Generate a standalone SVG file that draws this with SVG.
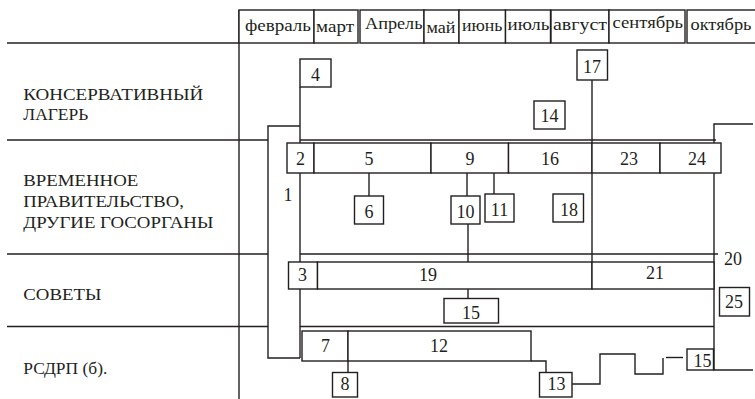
<svg xmlns="http://www.w3.org/2000/svg" width="755" height="399" viewBox="0 0 755 399">
<style>
.b{fill:#fff;stroke:#231f20;stroke-width:1.4}
.l{fill:none;stroke:#231f20;stroke-width:1.4}
text{font-family:Liberation Serif,Times New Roman,Times,DejaVu Serif,serif;fill:#231f20}
.h{font-size:17px}
.n{font-size:18px;text-anchor:middle}
.lab{font-size:17.5px}
</style>
<rect width="755" height="399" fill="#fff"/>
<g id="connectors" class="l">
<line x1="239" y1="10" x2="239" y2="399"/>
<line x1="7" y1="43" x2="239" y2="43"/>
<line x1="7" y1="140" x2="268" y2="140"/>
<line x1="7" y1="254" x2="268" y2="254"/>
<line x1="7" y1="326.5" x2="268" y2="326.5"/>
<polyline points="300,126 268,126 268,358 300,358"/>
<line x1="300" y1="87" x2="300" y2="143"/>
<line x1="300" y1="173" x2="300" y2="262"/>
<line x1="300" y1="289" x2="300" y2="358"/>
<line x1="300" y1="140" x2="716" y2="140"/>
<line x1="300" y1="254" x2="718" y2="254"/>
<line x1="300" y1="326.5" x2="714" y2="326.5"/>
<polyline points="753,124 714,124 714,370 753,370"/>
<line x1="592" y1="80" x2="592" y2="289"/>
<line x1="369" y1="173" x2="369" y2="196"/>
<line x1="467" y1="173" x2="467" y2="196"/>
<line x1="494" y1="173" x2="494" y2="194"/>
<line x1="468" y1="224" x2="468" y2="298"/>
<line x1="348" y1="361" x2="348" y2="372"/>
<polyline points="531,361 546,361 546,372"/>
<polyline points="572,384 600,384 600,354 635,354 635,374 663,374 663,358"/>
<line x1="666" y1="357.5" x2="683" y2="357.5"/>
</g>
<g id="months">
<g id="m-feb"><rect class="b" x="239" y="10" width="75" height="33"/><text class="h" x="245" y="31" textLength="66" lengthAdjust="spacingAndGlyphs">февраль</text></g>
<g id="m-mar"><rect class="b" x="314" y="10" width="44" height="33"/><text class="h" x="316" y="32" textLength="38" lengthAdjust="spacingAndGlyphs">март</text></g>
<g id="m-apr"><rect class="b" x="360" y="10" width="64" height="33"/><text class="h" x="365" y="28.5" textLength="57.5" lengthAdjust="spacingAndGlyphs">Апрель</text></g>
<g id="m-may"><rect class="b" x="424" y="10" width="35" height="33"/><text class="h" x="426.5" y="32.5" textLength="29" lengthAdjust="spacingAndGlyphs">май</text></g>
<g id="m-jun"><rect class="b" x="459" y="10" width="46.5" height="33"/><text class="h" x="462" y="31" textLength="40.5" lengthAdjust="spacingAndGlyphs">июнь</text></g>
<g id="m-jul"><rect class="b" x="505.5" y="10" width="45" height="33"/><text class="h" x="507.5" y="29.5" textLength="42" lengthAdjust="spacingAndGlyphs">июль</text></g>
<g id="m-aug"><rect class="b" x="551" y="10" width="58" height="33"/><text class="h" x="553" y="30" textLength="54" lengthAdjust="spacingAndGlyphs">август</text></g>
<g id="m-sep"><rect class="b" x="609" y="10" width="76" height="33"/><text class="h" x="612.5" y="28" textLength="70.5" lengthAdjust="spacingAndGlyphs">сентябрь</text></g>
<g id="m-oct"><rect class="b" x="687" y="10" width="70" height="33"/><text class="h" x="690.5" y="30" textLength="61" lengthAdjust="spacingAndGlyphs">октябрь</text></g>
</g>
<g id="lanes">
<g id="lane-cons"><text class="lab" x="23.3" y="100" textLength="180" lengthAdjust="spacingAndGlyphs">КОНСЕРВАТИВНЫЙ</text><text class="lab" x="23.3" y="120" textLength="65" lengthAdjust="spacingAndGlyphs">ЛАГЕРЬ</text></g>
<g id="lane-gov"><text class="lab" x="23.3" y="186" textLength="115" lengthAdjust="spacingAndGlyphs">ВРЕМЕННОЕ</text><text class="lab" x="23.3" y="207" textLength="160.5" lengthAdjust="spacingAndGlyphs">ПРАВИТЕЛЬСТВО,</text><text class="lab" x="23.3" y="228" textLength="190" lengthAdjust="spacingAndGlyphs">ДРУГИЕ ГОСОРГАНЫ</text></g>
<g id="lane-sov"><text class="lab" x="23.3" y="300" textLength="78" lengthAdjust="spacingAndGlyphs">СОВЕТЫ</text></g>
<g id="lane-rsdrp"><text class="lab" x="23.3" y="373.5" textLength="84" lengthAdjust="spacingAndGlyphs">РСДРП (б).</text></g>
</g>
<g id="nodes">
<g id="n4"><rect class="b" x="300" y="59" width="31" height="28"/><text class="n" x="315.5" y="81">4</text></g>
<g id="n17"><rect class="b" x="577" y="50" width="30.5" height="30"/><text class="n" x="592" y="73">17</text></g>
<g id="n14"><rect class="b" x="534" y="101" width="31" height="28"/><text class="n" x="549.5" y="122">14</text></g>
<g id="n2"><rect class="b" x="287" y="143" width="27" height="30"/><text class="n" x="300.5" y="165">2</text></g>
<g id="n5"><rect class="b" x="314" y="143" width="117" height="30"/><text class="n" x="369" y="165">5</text></g>
<g id="n9"><rect class="b" x="431" y="143" width="77.5" height="30"/><text class="n" x="470" y="165">9</text></g>
<g id="n16"><rect class="b" x="508.5" y="143" width="83.5" height="30"/><text class="n" x="550" y="165">16</text></g>
<g id="n23"><rect class="b" x="592" y="143" width="68" height="30"/><text class="n" x="629" y="165">23</text></g>
<g id="n24"><rect class="b" x="660" y="143" width="61" height="30"/><text class="n" x="697" y="165">24</text></g>
<g id="n1"><text class="n" x="288" y="201">1</text></g>
<g id="n6"><rect class="b" x="354.5" y="196" width="29" height="28"/><text class="n" x="369" y="218">6</text></g>
<g id="n10"><rect class="b" x="451" y="196" width="29" height="28"/><text class="n" x="465.5" y="218">10</text></g>
<g id="n11"><rect class="b" x="485" y="194" width="29" height="28"/><text class="n" x="499.5" y="216">11</text></g>
<g id="n18"><rect class="b" x="553" y="194" width="30.5" height="28"/><text class="n" x="569" y="216">18</text></g>
<g id="n20"><text class="n" x="733" y="265">20</text></g>
<g id="n3"><rect class="b" x="288.5" y="262" width="29" height="27"/><text class="n" x="302.5" y="281">3</text></g>
<g id="n19"><rect class="b" x="317.5" y="262" width="274.5" height="27"/><text class="n" x="428" y="281">19</text></g>
<g id="n21"><rect class="b" x="592" y="262" width="122" height="27"/><text class="n" x="655" y="279">21</text></g>
<g id="n25"><rect class="b" x="719.5" y="287.5" width="30" height="28.5"/><text class="n" x="734" y="308">25</text></g>
<g id="n15a"><rect class="b" x="444" y="298.5" width="54.5" height="24.5"/><text class="n" x="471" y="318.5">15</text></g>
<g id="n7"><rect class="b" x="302" y="331" width="46" height="30"/><text class="n" x="325.5" y="352">7</text></g>
<g id="n12"><rect class="b" x="348" y="331" width="183" height="30"/><text class="n" x="439" y="352">12</text></g>
<g id="n8"><rect class="b" x="332.5" y="372.5" width="25" height="24.5"/><text class="n" x="345" y="390">8</text></g>
<g id="n13"><rect class="b" x="539.5" y="372.5" width="32.5" height="24.5"/><text class="n" x="556.5" y="390">13</text></g>
<g id="n15b"><rect class="b" x="687" y="349" width="26.5" height="21"/><text class="n" x="702.5" y="367">15</text></g>
</g>
</svg>
